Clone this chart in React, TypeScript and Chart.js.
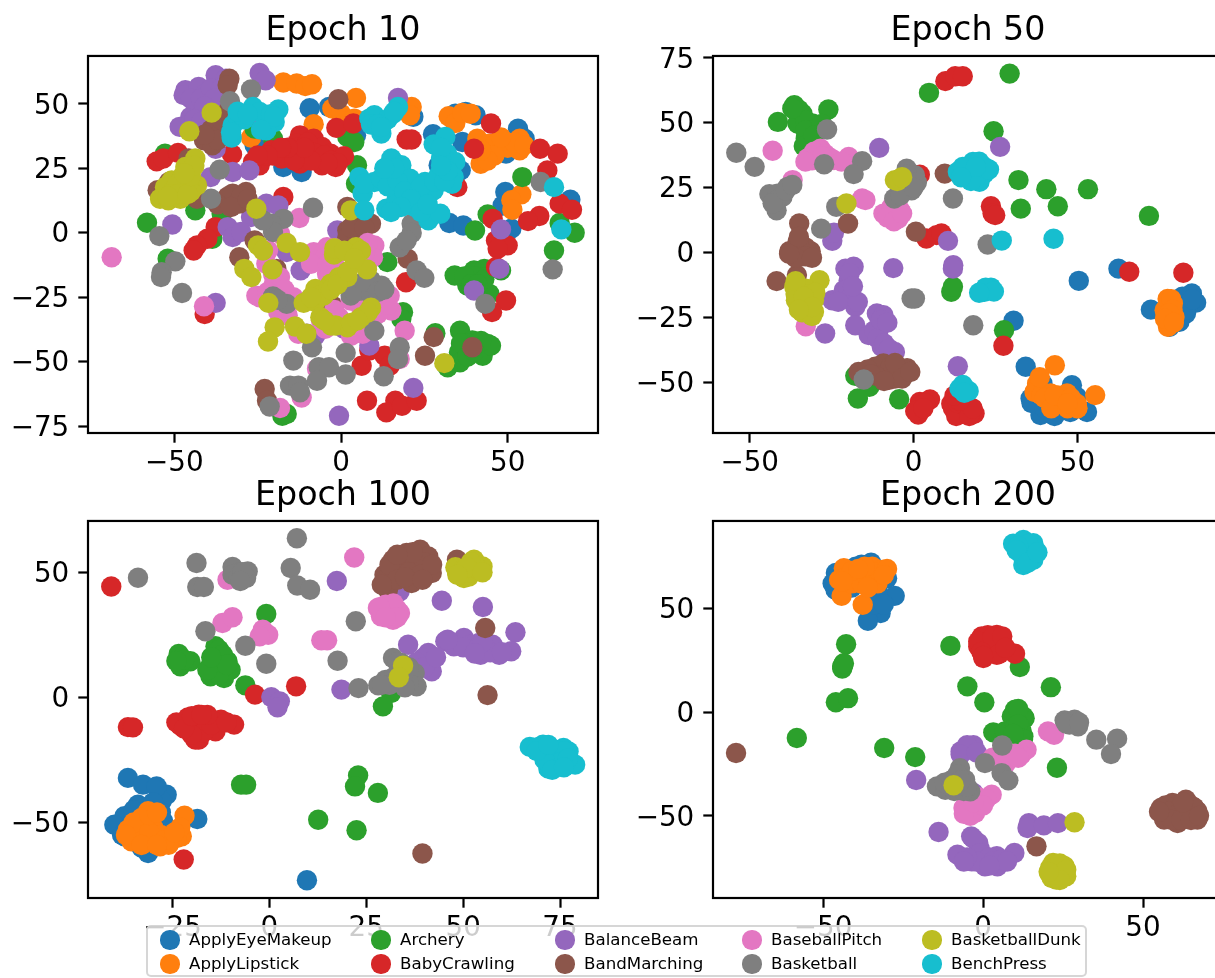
import React, { useEffect, useRef } from "react";
import { Chart, registerables } from "chart.js";

Chart.register(...registerables);

type P = number[];

const classNames = ["ApplyEyeMakeup","ApplyLipstick","Archery","BabyCrawling","BalanceBeam","BandMarching","BaseballPitch","Basketball","BasketballDunk","BenchPress"];
const classColors = ["#1f77b4","#ff7f0e","#2ca02c","#d62728","#9467bd","#8c564b","#e377c2","#7f7f7f","#bcbd22","#17becf"];

// ---- Epoch 10
const e10ApplyEyeMakeup: P[] = [[-9.4,48.3],[-3.6,48.8],[21.7,45],[27.6,38.2],[34.3,46.2],[37.4,46.9],[40.4,45.6],[36.4,35.2],[53.1,40.4],[55.1,36.5],[49.5,30.7],[29.3,26.2],[35.9,24.2],[-17.3,25.5],[-11.8,23.6],[49.3,15.8],[68.8,12.8],[48.5,10.6],[51.1,1.6],[32.5,3.8],[36.7,2.8],[4.5,37.8],[-25.9,33.9]];
const e10ApplyLipstick: P[] = [[-17.3,58.3],[-13.3,57.9],[-10.7,56.9],[-8.7,57.6],[4.5,52.3],[21.2,48.8],[20.7,45.6],[-2.6,48.2],[0,46.2],[4,44.3],[-8.2,42.1],[-27,36.9],[32.3,45.2],[34.3,42.6],[36.4,46.5],[38.9,46.2],[40.9,36.5],[44.5,34.6],[49.5,35.2],[53.6,36.5],[53.6,32],[41.9,26.8],[43.5,30.7],[54.1,14.9],[51.1,12.6],[51.4,8.9],[-9.2,30.7],[46,34],[50,33],[46,30],[44,28],[52,35],[48,37],[42,32],[55,34]];
const e10Archery: P[] = [[-52.8,30.7],[-43.7,8.7],[-58.2,3.9],[-35.8,7.4],[-38.6,-2.3],[-52,-10.1],[-25.9,40.4],[-20.4,36.5],[1.9,37.2],[4,35.2],[4.8,26.2],[4.5,19],[26.2,15.2],[54.4,21.6],[44,7.1],[40.2,0.9],[65.6,3.8],[70.1,0],[63.9,-6.9],[34.1,-16.6],[39.9,-14.6],[43,-14],[42.5,-17.2],[37.9,-20.5],[44.5,-23.7],[48,-14.6],[13.9,-11.4],[18.6,-30.8],[18.1,-33.4],[28.3,-39],[35.7,-38],[35.4,-46.4],[39.4,-41.8],[44,-43.1],[42.5,-47.7],[35.7,-50.3],[32,-52.2],[45,-43.8],[-17.6,-71],[-16.3,-70.3],[40,-17],[43,-18],[37,-17],[39,-20],[41,-20],[38,-43],[42,-42],[36,-43],[38,-48],[40,-46]];
const e10BabyCrawling: P[] = [[-55.3,27.7],[-53.3,28.8],[-48.9,31],[-32.7,30.4],[-24.4,26.2],[-26.4,27.5],[-20.9,32],[-17.3,13.9],[-37.6,2.2],[-40.1,-2.3],[-43.2,-4.9],[-44.2,-6.9],[-40.9,-31.5],[-12.3,37.8],[-13.3,34.6],[-8.2,36.5],[-5.7,33.3],[-3.1,30.7],[0.9,29.7],[-1.6,25.5],[-5.7,26.2],[-12.3,26.9],[-15.3,30],[-17.8,28.8],[-20.4,30],[-12.3,30.7],[-7.2,29.4],[-1.4,40.7],[3.7,42.4],[19.7,36.2],[21.2,36.2],[45,42.4],[39.9,32.6],[59.7,32.6],[65,30.7],[61.9,24.2],[34.9,17.7],[65.6,11.3],[69.3,8.9],[59.5,6.5],[56.1,4.5],[45.5,5.4],[46.5,-3],[50,-4.9],[47,-6.2],[46.5,-13.3],[19.5,-19.2],[49.5,-26.3],[45.3,-30.8],[6.2,-51.6],[13.1,-47.7],[14.6,-51.6],[7.8,-65.2],[16.3,-65.2],[13.6,-69.7],[18.3,-67.1],[22.7,-65.2],[8.5,-45.7],[-13,33],[-10,35],[-8,31],[-5,30],[-3,28],[-1,27],[-4,27],[-9,28],[-14,28],[-11,33],[-16,33],[-18,33],[-22,30],[-25,30]];
const e10BalanceBeam: P[] = [[-37.6,61.1],[-34.5,59.8],[-24.4,62],[-22.6,59.2],[-46.7,55.3],[-47.2,53.4],[-42.7,56.6],[-40.7,54],[-37.6,50.8],[-43.7,50.1],[-45.2,44.9],[-41.7,46.2],[-48.4,41.1],[-36.5,47.5],[17.1,52.3],[-23.4,41.7],[-37.6,32.6],[-39.1,21.6],[-32.5,23.6],[-27.5,24.2],[-50.6,3.2],[-22.4,11.3],[-18.8,10.6],[-27,6.1],[-34,2.2],[-32.5,-1.7],[-30,0.3],[-16.3,-7.5],[-1.1,0.9],[-12.1,-14.6],[-37.6,-27.2],[-10.2,-39.2],[-7.7,-39.9],[0.9,-37.3],[8.5,-43.8],[21.7,-60.2],[-0.6,-71],[39.9,-22.4],[47.5,-14],[48,1.3],[-45,52],[-42,52],[-39,56],[-36,56],[-38,52],[-41,49],[-39,45],[-44,44],[-42,43],[-38,46]];
const e10BandMarching: P[] = [[-33.5,59.8],[-34,57.3],[-0.8,51.8],[-37.9,41.1],[-39,37.2],[-41.1,35.9],[-38.6,33.9],[-45.7,28.8],[-51.6,19.7],[-55,16.5],[-43.2,13.2],[-32.5,15.2],[-28.5,15.8],[-34.6,11.9],[-30.5,11.3],[1.9,10],[9,3.5],[1.9,0.9],[4,3.5],[1.9,-1.7],[-25.9,-3],[-30.5,-9.5],[-19.4,-14],[20,-10.1],[-2.6,-28.2],[27.8,-40.5],[25.2,-47.7],[39.4,-44.4],[-22.9,-60.6],[-22.2,-65.2],[20.7,14.5],[-39,40],[-36,39],[-37,36],[-41,38],[-52,18],[-34,14],[-30,14],[-37,11],[-33,10],[-28,13],[-36,44],[-34,47],[5,-1],[3,2],[7,2]];
const e10BaseballPitch: P[] = [[-68.8,-9.5],[-12.5,5.7],[-18.3,-0.4],[-21.9,-6.9],[-8.2,-7.5],[-4.2,-5.6],[-7.2,-10.8],[10,-4.9],[9.6,-9.5],[-4.2,-15.9],[-2.1,-12],[-20.4,-15.9],[-18.3,-17.2],[-22.4,-12],[-24.4,-25],[-20.4,-21.1],[-14.3,-25],[-18.8,-30.8],[-25.4,-24.4],[2.9,-26.3],[14.6,-24.4],[15.1,-30.2],[11,-31.5],[-0.6,-32.8],[-4.7,-37.3],[6.5,-39.2],[-12.8,-39.2],[19.1,-38],[17.6,-49],[-41.1,-28.5],[-11.8,-63.9],[-18.3,-68],[-7.2,-52.8],[-5,-10],[-3,-8],[-2,-6],[-9,-12],[-4,-12],[7,-8],[8,-4],[-20,-19],[-17,-22],[-19,-27],[-22,-23],[-17,-29],[-16,-32],[11,-23],[14,-28],[9,-28],[6,-29],[-2,-30],[-6,-34],[3,-40],[8,-36]];
const e10Basketball: P[] = [[-27,55.6],[-33.3,51],[-36.4,24.5],[-39,13.2],[-8.4,9.7],[-17.3,5.4],[-20.9,3.5],[-20.4,0.3],[-23.4,4.8],[-54.5,-1.3],[-49.7,-11.1],[-53.8,-15.3],[-54,-17.2],[-47.7,-23.4],[-20.4,-24.7],[-16.3,-27.6],[2.9,-24.4],[8,-22.4],[12.1,-20.5],[9,-18.5],[6,-22.4],[10,-38],[59.9,19.7],[21.2,3.5],[21.2,-0.1],[17.6,-5.6],[19.7,-3],[22.7,-14.6],[25,-17.5],[43.3,-27.6],[63.5,-14.2],[-8.7,-44.4],[-14.3,-49.6],[1.4,-46.6],[17.6,-44.4],[17.1,-49],[12.8,-55.7],[-6.7,-52.2],[-3.6,-52.2],[1.4,-55],[-7.2,-57.4],[-15.3,-59.3],[-12.8,-59.3],[-12.3,-61.9],[-21.4,-67.4],[5,-20],[4,-23],[9,-24],[7,-19],[11,-23],[13,-22],[-19,-26]];
const e10BasketballDunk: P[] = [[-38.8,46.6],[-45.5,39.4],[-43.7,28.8],[-46.7,25.5],[-50.8,20.3],[-47.7,21.6],[-43.2,18.4],[-52.8,17.7],[-54.3,13.2],[-51.8,12.6],[-48.2,13.2],[-47.7,17.7],[-25.4,9.3],[2.9,8.7],[-24.9,-4.9],[-23.4,-6.9],[-16.3,-4],[-12.3,-7.5],[-29,-14],[-26.9,-17.2],[-20.6,-14.2],[-2.1,-8.5],[4.5,-5.6],[4,-8.8],[7.8,-14.2],[-0.6,-17.2],[1.9,-17.2],[-3.1,-19.8],[-7.7,-21.8],[-5.2,-24.4],[-11.2,-27.2],[-7.7,-26.9],[-21.8,-27.2],[-6.2,-32.8],[-1.6,-36],[1.9,-36.7],[6,-32.8],[9,-29.1],[-19.9,-36.7],[-13.8,-36.4],[-10.4,-39.2],[-21.9,-42.2],[31,-50.6],[-50,17],[-49,19],[-46,18],[-45,16],[-51,15],[-49,15],[-52,14],[-46,15],[-45,22],[-44,26],[-47,23],[-6,-24],[-3,-22],[-1,-20],[-9,-25],[2,-15],[-2,-6],[1,-7],[6,-7],[4,-10],[3,-35],[-3,-36],[-5,-34],[8,-31],[5,-34]];
const e10BenchPress: P[] = [[-26.4,48.8],[-24.4,46.9],[-18.8,47.8],[-19.9,43],[-22.4,39.8],[-32.8,36.9],[-32.5,41.7],[-31,44.9],[8.5,44.3],[12.1,38.5],[10,45.6],[15.6,46.2],[17.1,48.8],[27.8,34.3],[31.3,37.2],[31.8,30.7],[34.3,27.5],[33.8,21.6],[33.3,19],[15.1,28.8],[18.1,26.2],[5.5,21.6],[10,19.7],[15.6,22.3],[20.7,21],[25.2,19.7],[29.3,22.3],[27.8,16.5],[6.5,15.2],[7,8.7],[13.6,9.3],[16.6,12.6],[22.2,10],[26.2,4.8],[29.8,7.4],[23.2,13.9],[63.9,17.7],[66.1,1.3],[7,19],[12,21],[14,18],[17,20],[19,16],[24,18],[21,13],[18,10],[15,8],[24,8],[26,11],[28,20],[31,20],[32,24],[30,29],[30,33],[16,25],[13,25],[30,26],[-29,44],[-31,47],[-28,46],[-33,39],[-21,46],[-20,45],[-24,40],[14,44],[9,42],[11,42],[12,41],[16,47]];

// ---- Epoch 50
const e50ApplyEyeMakeup: P[] = [[50.4,-10.9],[62.5,-6.2],[72.4,-22],[84.9,-15.8],[86.2,-19.3],[83.1,-23.5],[81.1,-26.7],[78.1,-28.6],[84.2,-19.6],[30.5,-26.3],[34.2,-44],[39.3,-50.4],[35.7,-56.2],[38.7,-62.6],[42.8,-60.7],[47.8,-61.4],[52.9,-61.4],[48.3,-51.1],[49.8,-55.6],[37.7,-51.7],[36,-58],[43,-63],[45,-60],[40,-60],[50,-60],[46,-59],[80,-20],[82,-17],[83,-22],[85,-18]];
const e50ApplyLipstick: P[] = [[78.1,-19.6],[79.1,-19.6],[76.6,-22.2],[78.1,-26.1],[79.6,-24.8],[77.6,-28.6],[43.1,-43.4],[37.7,-50.4],[36.9,-53.7],[41.8,-54.3],[46.8,-54.3],[44.8,-58.2],[49.8,-58.2],[55.4,-54.9],[43.3,-58.2],[77.5,-17.9],[78.6,-18],[77,-24],[79,-22],[78,-23.5],[76.7,-25.5],[79.4,-27],[39,-55],[40,-56],[42,-60],[47,-60],[44,-55],[46.5,-57],[38.5,-48],[43,-55],[48,-56],[50,-60],[47,-58]];
const e50Archery: P[] = [[4.7,61.5],[29.3,68.9],[-36.4,56.7],[-33.9,53.5],[-26,55.1],[-41.4,50.3],[-35.4,49.7],[-30.9,49.7],[-32.9,43.9],[24.4,46.7],[32,27.9],[40.5,24.4],[53.2,24.4],[32.7,16.9],[44,17.8],[71.8,14.1],[11.5,-15.1],[12,-13.2],[27.6,-29.9],[-17.8,-47.5],[-13.5,-51.7],[-17,-56.2],[-4.4,-56.5],[-35,55],[-33,51],[-37,55.5],[-31,47],[-33,47],[-28,49.5],[-33.5,41],[-30.5,45]];
const e50BabyCrawling: P[] = [[9.7,66],[12.7,67.9],[15,67.9],[1.9,30],[23.6,17.8],[24.1,15],[24.9,14.4],[3.9,5.4],[7,6.7],[8.5,7.3],[65.8,-7.4],[82.3,-7.8],[27.4,-35.9],[1.9,-57.5],[5,-56.6],[1.4,-62.4],[11.5,-58.2],[15.5,-60],[18.6,-62],[14.5,-62],[16.8,-62.6],[2,-59],[3.5,-58],[0.5,-61],[3,-60],[12,-60],[13,-63],[13.5,-58],[16,-59],[17,-63],[18,-60],[14,-57],[12.5,-55]];
const e50BalanceBeam: P[] = [[-10.5,40.3],[26.4,40.7],[-24.8,4.5],[-24.3,7.6],[10.5,4.5],[-6.2,-6],[12.1,-4.9],[12,-6.2],[-20.8,-6.2],[-18.3,-5.5],[-19.8,-10.7],[-24.8,-18.4],[-20.8,-17.7],[-17.8,-20.9],[-21.3,-14.5],[-17.8,-28],[-11.2,-23.5],[-9.2,-24.1],[-27,-31.2],[-13.7,-31.8],[-10.7,-29.9],[-9.7,-36.3],[-5.7,-38.3],[13.5,-43.8],[-19.5,-8],[-20,-14],[-19,-17],[-23,-19],[-17,-19],[-18.5,-13],[-12,-30],[-11,-33],[-9,-35],[-7.5,-37],[-10,-26],[-8,-27]];
const e50BandMarching: P[] = [[9.5,30.4],[-20,11.2],[-34.9,11.2],[0.7,8],[-35.4,4.1],[-37.9,0.5],[-31.4,0.5],[-34.9,-1.7],[-41.8,-11],[-35.6,-8.7],[-16.8,-46],[-11.7,-44],[-9.2,-42.7],[-4.6,-46],[-2.6,-46.6],[-5.7,-48.5],[-9.7,-47.2],[-14,-45],[-7,-44],[-11.5,-47.5],[-7.5,-49],[-13,-47],[-2,-44.5],[-5.7,-42.5],[-3.5,-48.5],[-9,-49.5],[-1,-46],[-36.5,1],[-33,2],[-35,3],[-33,-1.5],[-36,-2],[-31,-2],[-38,-0.5],[-35,6]];
const e50BaseballPitch: P[] = [[-43,39.2],[-36.9,27.9],[-32.4,36.2],[-28.4,40],[-30.4,38.8],[-24.3,35.6],[-19.8,36.8],[-15.7,20.8],[-14.7,20.2],[-9.2,15],[-4.6,13.1],[-4.1,16.3],[-6.7,17.6],[-32.9,-28.4],[-7,15],[-5,17],[-8,13.5],[-6,12],[-3.5,15],[-31,35.5],[-27,38],[-25.5,36.5],[-22,35],[-28,37],[-33,35]];
const e50Basketball: P[] = [[-54.1,38.4],[-48.5,33],[-26.4,47.4],[-15.7,35.2],[-27.3,34],[-18.3,30.2],[-44,22.5],[-41.5,22.7],[-38.4,25.3],[-41.8,16.3],[-23.6,17.6],[-28.2,9.2],[-2.1,32.3],[0.4,29.8],[-0.6,24],[-5.9,20.8],[-4.6,26.6],[12,20.8],[22.6,3.1],[-0.6,-17.7],[0.4,-17.7],[18.2,-28],[-15.2,-48.9],[-40,21.5],[-42,20],[-43,19],[-39,24],[-37,26],[-2,30],[-1,27],[-3,24],[-4,22],[1,27],[0,25]];
const e50BasketballDunk: P[] = [[-20.5,18.9],[-5.7,27.9],[-4.1,28.5],[-28.7,-10.7],[-36.4,-13.2],[-32.9,-13.9],[-35.9,-18.4],[-31.9,-19.6],[-30.4,-22.8],[-30.4,-18.4],[-33.9,-20.9],[-5,27.5],[-3.5,29],[-36,-16],[-33,-16],[-30,-15.5],[-34,-23],[-31,-24.5],[-36,-11],[-33.5,-17],[-31,-21],[-35,-22]];
const e50BenchPress: P[] = [[26.9,4.6],[42.7,5.3],[13.5,31.1],[18.1,34.9],[21.6,33],[20.1,27.2],[16.5,31.1],[21.6,30.4],[21.6,-15.1],[23.6,-13.5],[14,-52.4],[16.8,-53.3],[16,30],[18,32],[19,29],[15,33],[20,35],[23,32],[17.5,27.5],[19,33],[14.5,29],[22,-13.5],[24.5,-15],[20,-15.5],[15,-51],[15.5,-54]];

// ---- Epoch 100
const e100ApplyEyeMakeup: P[] = [[9.7,-73.1],[-36.5,-32.2],[-32.6,-34.9],[-26.5,-38.9],[-27.8,-41.5],[-33.9,-42.9],[-37.4,-47.5],[-40,-50.9],[-27.4,-49.5],[-18.6,-48.6],[-31.3,-62.2],[-37.4,-55.5],[-29.1,-35.6],[-35,-45],[-30,-42],[-28,-46],[-28,-52],[-38,-55],[-33,-60]];
const e100ApplyLipstick: P[] = [[-31.3,-45.5],[-33,-48.2],[-36.5,-52.9],[-35.6,-57.5],[-31.3,-51.5],[-30,-56.2],[-28.2,-59.5],[-22.6,-55.5],[-21.9,-47.3],[-33,-56.9],[-23.9,-56.2],[-26,-58.9],[-34,-53],[-32,-50],[-30,-52],[-28,-55],[-35,-50],[-37,-55],[-31,-54],[-33,-59],[-27,-57],[-29,-59],[-31,-47],[-29,-46],[-23,-52],[-24.5,-54]];
const e100Archery: P[] = [[-0.8,33.3],[-23.4,17.3],[-23,12.4],[-20.4,14.4],[-13.9,20.4],[-13.9,15],[-10.8,14.4],[-15.2,8.4],[-11.7,7.7],[-13.9,11.1],[-6.2,4.8],[31.4,1.7],[29.3,-3.6],[-7.3,-34.9],[-6,-34.9],[22.9,-31.2],[22.1,-35.6],[28,-38.2],[12.6,-48.9],[22.5,-53.1],[-22,15],[-13,19],[-12,17],[-15,13],[-10,11],[-13,9],[-11,13],[-16,11],[-15,16],[-24,14.5]];
const e100BabyCrawling: P[] = [[-40.8,44.3],[-3.7,1.1],[6.9,4.4],[-36.5,-11.9],[-35.2,-12],[-23,-11.3],[-18.2,-6.9],[-15.6,-8.3],[-12.5,-8.9],[-9.1,-10.9],[-19.1,-16.9],[-13.9,-13.6],[-18.2,-16.9],[-20.8,-11.6],[-17.3,-11.6],[-22.1,-64.8],[-24,-10],[-21,-8],[-19,-10],[-16,-10],[-14,-10],[-21,-13],[-17,-14],[-15,-11],[-20,-15],[-22,-12.5],[-11,-10],[-16,-7],[-20,-7.5],[-17.5,-7]];
const e100BalanceBeam: P[] = [[17.4,46.5],[44.5,38.6],[55.1,36.1],[33.6,42.3],[63.5,26],[35.8,21],[41,17.7],[39.7,15.7],[41.9,10.4],[45.4,22.4],[47.6,20.4],[50.2,23.7],[54.1,21.7],[57.6,21],[54.5,17],[59.3,17],[62.4,18.4],[18.6,3.1],[0.5,0.1],[2.7,-1.6],[2.1,-4],[52,21],[56,19],[50,20],[46,23],[54,20],[57,18],[60,18],[55,22],[53,17.5],[38,14],[40,12],[43,16]];
const e100BandMarching: P[] = [[55.7,27.7],[56.3,0.9],[48.4,55],[39.5,-62.4],[31.9,55],[35.4,57.7],[38.9,59],[41,56.3],[41.9,49.7],[29.7,49],[30.6,43],[36.7,45.7],[34.1,52.3],[38.5,52.3],[32,52],[33,50],[30,47],[34,55],[37,55],[40,54],[36,50],[39,49],[31,53],[33,47],[35,48],[42,53],[29,45],[37,58],[33,57],[39.5,47]];
const e100BaseballPitch: P[] = [[21.9,55.9],[-10.8,47],[-12.1,29.7],[-9.5,32],[-1.7,27],[-0.3,25],[-2.5,24.4],[13.4,22.8],[14.9,22.8],[28,35.7],[31,35.7],[33.7,33.7],[31.9,31],[28.8,32.4],[29,34],[31,33],[33,35],[30,37],[32,37.5],[28.5,36],[33,32],[30,32]];
const e100Basketball: P[] = [[-33.9,47.8],[-18.8,53.7],[-18.6,44.1],[-16.9,44.1],[-9.5,52.1],[-5.6,50.3],[-6,47.7],[-8.2,49.7],[-9.5,49],[7.1,63.6],[5.5,51.7],[7.2,44.7],[10.5,43],[22.3,30.4],[-16.5,26.4],[-6.2,20.6],[-0.8,13.4],[17.6,14.6],[23,3.7],[28.1,4.8],[31.9,15.7],[34,13.7],[37.5,9.7],[38,4.4],[33.6,6.4],[30,7],[32,8],[34,10],[36,6],[35,4],[31,5],[36,12],[33,14],[29,5],[-8,48],[-7,50],[-7.5,46.5]];
const e100BasketballDunk: P[] = [[34.5,12.6],[33.4,8],[48.4,50.3],[50.2,47.7],[52.8,55],[55,52.3],[51.5,48.3],[48,52],[50,51],[52,50],[54,51],[49,49],[53,53],[52,54],[51,52],[48.5,49],[55,50]];
const e100BenchPress: P[] = [[67.2,-19.8],[70.6,-18.9],[74.1,-24.2],[72,-28.5],[75.9,-20.2],[78.9,-26.9],[77.2,-21.6],[74.1,-27.6],[69,-20],[72,-21],[74,-21],[76,-21.5],[71,-23],[73,-26],[75,-26],[77,-24.5],[71,-25],[69,-21.5],[72,-19],[73,-29],[76,-28]];

// ---- Epoch 200
const e200ApplyEyeMakeup: P[] = [[-36.2,70.9],[-39.8,70.1],[-45,66.1],[-30,64.5],[-46.1,58.9],[-27.6,56],[-32.6,51],[-32,47.7],[-36,44],[-43,60],[-41,60],[-33,58],[-34,52],[-31,52],[-38,71],[-35,72],[-47,62],[-46,67]];
const e200ApplyLipstick: P[] = [[-43.5,69.3],[-45,63.7],[-39.8,65.3],[-34.6,70.1],[-31.5,68.5],[-35.2,61.3],[-44.2,56],[-37.6,51.7],[-37.8,67],[-43,65],[-41,62],[-38,62],[-36,64],[-33,65],[-35,68],[-41,68],[-37,70],[-33,62],[-30,69],[-44,63],[-39,69],[-31,66],[-36,60]];
const e200Archery: P[] = [[-42.8,32.7],[-43.7,22.8],[-44,22],[-46,4.7],[-42.2,6.7],[-58.2,-12.5],[-30.9,-17.3],[-21.2,-21.7],[-10.2,31.9],[11.5,21.7],[-4.9,12.4],[0.4,4.7],[21.2,12],[10,1.1],[12.6,-2.1],[3.2,-9.8],[6.8,-9.3],[12.6,-11.7],[10.5,-3.7],[23.1,-26.8],[11,-1],[13,-3],[9,-2],[11,1.5],[10,-7],[12,-9],[11,-6],[12.5,-13],[9.5,-10.5],[-44,21],[-43.5,23.5]];
const e200BabyCrawling: P[] = [[10,28.1],[-0.4,36.4],[4.3,37.2],[5.8,35.6],[-1.5,31.6],[0.1,26],[4.3,27.6],[2.7,31.6],[1,34],[3,33],[0,30],[2,29],[5,31],[6,33],[1.5,37],[-1.5,34],[3,36],[-0.5,29],[5,28],[6,36.5],[7,31],[0,27]];
const e200BalanceBeam: P[] = [[-5.3,-18.1],[-3.5,-18.1],[-20.9,-32.7],[-3,-39],[-13.9,-57.8],[14.3,-53.5],[13.9,-55.9],[19,-54.6],[23.4,-53.5],[-3.7,-59.9],[-1.5,-63.1],[-8,-68.7],[-3.5,-71.9],[0.6,-74.3],[4.5,-74.3],[9.8,-67.9],[4.3,-69.5],[0.6,-70.3],[-1,-66],[-3,-61],[-1,-68],[2,-70],[3,-72],[-2,-72],[6,-71],[7.5,-72],[2,-74],[-5,-70],[-6,-72],[-7,-19],[-3,-16],[-5,-16],[-7,-20.5],[-2,-19.5]];
const e200BandMarching: P[] = [[-77.2,-19.7],[16.7,-64.7],[55.6,-46.2],[59.2,-43.8],[63.4,-42.2],[67,-47.8],[67,-51.8],[60.8,-53.5],[56.6,-51.8],[62.8,-48.6],[57,-45],[60,-46],[62,-45],[65,-45],[58,-48],[61,-49],[64,-49],[66,-46],[59,-52],[62,-52],[65,-52],[55,-48],[67.5,-50],[62.5,-43.5]];
const e200BaseballPitch: P[] = [[20.3,-9.3],[22.2,-10.9],[2.7,-39.8],[-5.6,-47],[-2.5,-48.6],[-2,-43.8],[-6.1,-46.2],[4.8,-23.8],[8.9,-22.2],[13.6,-18.1],[12,-20.5],[-5,-45],[-3,-46],[-1.5,-41],[-4,-50],[-6,-49],[1,-42],[0,-45],[-3,-43.5],[7,-25],[10,-20],[5.5,-26],[3,-22],[6,-21],[11,-22]];
const e200Basketball: P[] = [[25.5,-4],[28.6,-3.7],[29.7,-6.9],[35.4,-13.3],[41.9,-12.8],[40,-20.2],[6,-16.1],[0.6,-24.6],[5.8,-29.4],[7.9,-32.9],[-7.2,-27],[-5.6,-32.6],[-14.4,-35.8],[-11.8,-37.4],[-4,-38.2],[-10,-33],[-8,-30],[-7,-35],[-12,-34],[-9,-38],[-6,-38],[-5,-36],[-7,-33],[-10,-36],[27,-6],[26,-5.5],[30,-5]];
const e200BasketballDunk: P[] = [[-9.2,-35.3],[28.6,-53.1],[21.9,-72.7],[25.5,-74.3],[20.9,-78.3],[22.9,-80.7],[26,-79.1],[21,-75],[24,-77],[23,-79],[25,-76],[22,-73.5],[24,-73],[26,-76],[21.5,-80],[24,-81],[20.5,-77]];
const e200BenchPress: P[] = [[9.4,81.1],[12.6,83],[15.7,81.4],[16.2,76.6],[12.6,70.9],[15.7,73.4],[11,78],[13,79],[14,77],[15,75],[13,74],[16,79],[14,81],[12,76],[11,80],[10.5,78],[14,72],[17,77]];

const epoch10 = [e10ApplyEyeMakeup,e10ApplyLipstick,e10Archery,e10BabyCrawling,e10BalanceBeam,e10BandMarching,e10BaseballPitch,e10Basketball,e10BasketballDunk,e10BenchPress];
const epoch50 = [e50ApplyEyeMakeup,e50ApplyLipstick,e50Archery,e50BabyCrawling,e50BalanceBeam,e50BandMarching,e50BaseballPitch,e50Basketball,e50BasketballDunk,e50BenchPress];
const epoch100 = [e100ApplyEyeMakeup,e100ApplyLipstick,e100Archery,e100BabyCrawling,e100BalanceBeam,e100BandMarching,e100BaseballPitch,e100Basketball,e100BasketballDunk,e100BenchPress];
const epoch200 = [e200ApplyEyeMakeup,e200ApplyLipstick,e200Archery,e200BabyCrawling,e200BalanceBeam,e200BandMarching,e200BaseballPitch,e200Basketball,e200BasketballDunk,e200BenchPress];

const FONT = "'DejaVu Sans'";
const panels = [
  { title: "Epoch 10", data: epoch10, xlim: [-75.9, 77.1], ylim: [-77.7, 68.6], xticks: [-50, 0, 50], yticks: [-75, -50, -25, 0, 25, 50], left: 0, top: 0 },
  { title: "Epoch 50", data: epoch50, xlim: [-61.2, 94.4], ylim: [-69.5, 75.7], xticks: [-50, 0, 50], yticks: [-50, -25, 0, 25, 50, 75], left: 625, top: 0 },
  { title: "Epoch 100", data: epoch100, xlim: [-46.8, 84.8], ylim: [-80.2, 70.5], xticks: [-25, 0, 25, 50, 75], yticks: [-50, 0, 50], left: 0, top: 465 },
  { title: "Epoch 200", data: epoch200, xlim: [-84.4, 75], ylim: [-89.6, 92.1], xticks: [-50, 0, 50], yticks: [-50, 0, 50], left: 625, top: 465 },
];

const M_LEFT = 88, M_TOP = 56, PLOT_W = 510, PLOT_H = 377, M_RIGHT = 20, M_BOTTOM = 60;
const CW = M_LEFT + PLOT_W + M_RIGHT, CH = M_TOP + PLOT_H + M_BOTTOM;

const spines = {
  id: "spines",
  afterDraw(chart: any) {
    const { ctx, chartArea: a } = chart;
    ctx.save();
    ctx.strokeStyle = "#000";
    ctx.lineWidth = 2.2;
    ctx.strokeRect(a.left, a.top, a.right - a.left, a.bottom - a.top);
    ctx.restore();
  },
};

const fmt = (v: any) => (v < 0 ? "\u2212" + Math.abs(v) : String(v));

function Panel({ p }: { p: (typeof panels)[number] }) {
  const ref = useRef<HTMLCanvasElement>(null);
  useEffect(() => {
    const tick = { color: "#000", maxRotation: 0, autoSkip: false };
    const grid = { drawOnChartArea: false, drawTicks: true, tickLength: 9.7, tickWidth: 2.2, tickColor: "#000" };
    const chart = new Chart(ref.current!, {
      type: "scatter",
      data: {
        datasets: p.data.map((pts, i) => ({
          label: classNames[i],
          data: pts.map(([x, y]) => ({ x, y })),
          backgroundColor: classColors[i],
          borderWidth: 0,
          pointRadius: 10.2,
          order: -i,
          clip: 0,
        })),
      },
      options: {
        animation: false,
        responsive: false,
        devicePixelRatio: 1,
        layout: { padding: { right: M_RIGHT } },
        plugins: {
          legend: { display: false },
          tooltip: { enabled: false },
          title: {
            display: true,
            text: p.title,
            fullSize: false,
            color: "#000",
            font: { family: FONT, size: 33.3, weight: "normal", lineHeight: 1.2 },
            padding: { top: 11.5, bottom: 4.5 },
          },
        },
        scales: {
          x: {
            type: "linear",
            min: p.xlim[0],
            max: p.xlim[1],
            grid,
            border: { display: false },
            ticks: { ...tick, padding: 7, font: { family: FONT, size: 27.8, lineHeight: 1 }, callback: fmt },
            afterBuildTicks: (s: any) => { s.ticks = p.xticks.map((value) => ({ value })); },
            afterFit: (s: any) => { s.height = M_BOTTOM; },
          },
          y: {
            type: "linear",
            min: p.ylim[0],
            max: p.ylim[1],
            grid,
            border: { display: false },
            // an empty first line nudges the digits down onto the tick mark
            ticks: { ...tick, padding: 9, font: { family: FONT, size: 27.8, lineHeight: 0.18 }, callback: (v: any) => ["", fmt(v)] },
            afterBuildTicks: (s: any) => { s.ticks = p.yticks.map((value) => ({ value })); },
            afterFit: (s: any) => { s.width = M_LEFT; },
          },
        },
      } as any,
      plugins: [spines],
    });
    return () => chart.destroy();
  }, [p]);
  return (
    <canvas
      ref={ref}
      width={CW}
      height={CH}
      style={{ position: "absolute", left: p.left, top: p.top, width: CW, height: CH, display: "block" }}
    />
  );
}

// legend columns fill top to bottom, as in the reference
const legendColumnX = [170, 381, 565, 752, 932];

function Legend() {
  return (
    <div
      style={{
        position: "absolute", left: 146, top: 925, width: 941, height: 52, boxSizing: "border-box",
        background: "rgba(255,255,255,0.8)", border: "2.2px solid rgba(204,204,204,0.8)", borderRadius: 5,
      }}
    >
      {classNames.map((name, i) => {
        const col = Math.floor(i / 2);
        const row = i % 2;
        const cx = legendColumnX[col] - 148;
        const cy = [13, 37][row];
        return (
          <React.Fragment key={name}>
            <span style={{ position: "absolute", left: cx - 9.6, top: cy - 9.6, width: 19.2, height: 19.2, borderRadius: "50%", background: classColors[i] }} />
            <span style={{ position: "absolute", left: cx + 19, top: cy - 12, height: 24, lineHeight: "24px", fontFamily: FONT, fontSize: 16.67, color: "#000", whiteSpace: "nowrap" }}>{name}</span>
          </React.Fragment>
        );
      })}
    </div>
  );
}

export default function App() {
  return (
    <div style={{ position: "fixed", left: 0, top: 0, width: 1215, height: 978, overflow: "hidden", background: "#fff" }}>
      {panels.map((p) => <Panel key={p.title} p={p} />)}
      <Legend />
    </div>
  );
}
